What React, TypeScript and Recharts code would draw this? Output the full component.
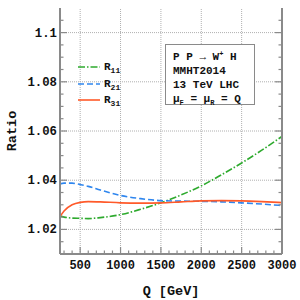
import { LineChart, Line, XAxis, YAxis, ReferenceLine, Legend, Label } from "recharts";

// Q in GeV and the three ratios
const qValues = [250, 300, 400, 500, 600, 750, 1000, 1250, 1500, 1750, 2000, 2250, 2500, 2750, 3000];
const r11 = [1.0254, 1.025, 1.0246, 1.0245, 1.0244, 1.0248, 1.026, 1.0282, 1.0308, 1.034, 1.0377, 1.0422, 1.047, 1.0522, 1.0578];
const r21 = [1.0385, 1.0388, 1.0388, 1.0382, 1.0375, 1.036, 1.0338, 1.0325, 1.0317, 1.0315, 1.0314, 1.0312, 1.0308, 1.0303, 1.0297];
const r31 = [1.0252, 1.0275, 1.03, 1.031, 1.0313, 1.0312, 1.0308, 1.0307, 1.0308, 1.0312, 1.0316, 1.0317, 1.0316, 1.0313, 1.0309];

const xMajorTicks = [500, 1000, 1500, 2000, 2500, 3000];
const xAllTicks = [
  300, 400, 500, 600, 700, 800, 900, 1000, 1100, 1200, 1300, 1400, 1500, 1600, 1700, 1800, 1900, 2000,
  2100, 2200, 2300, 2400, 2500, 2600, 2700, 2800, 2900, 3000,
];
const yMajorTicks = [1.02, 1.04, 1.06, 1.08, 1.1];
const yAllTicks = [
  1.015, 1.02, 1.025, 1.03, 1.035, 1.04, 1.045, 1.05, 1.055, 1.06, 1.065, 1.07, 1.075, 1.08, 1.085,
  1.09, 1.095, 1.1, 1.105,
];

const series = [
  { key: "r11", label: "11", color: "#2eaa2e", dash: "7 2 1.5 2" },
  { key: "r21", label: "21", color: "#2f86ee", dash: "6 3" },
  { key: "r31", label: "31", color: "#ff5a2a", dash: undefined },
];

const data = qValues.map((q, i) => ({ q, r11: r11[i], r21: r21[i], r31: r31[i] }));

const FONT = "'Liberation Mono', 'DejaVu Sans Mono', monospace";
const FRAME = "#8a8a8a";

const isMajor = (list: number[], v: number) => list.some((m) => Math.abs(m - v) < 1e-9);

function XTick(props: any) {
  const { x, y, payload } = props;
  const major = isMajor(xMajorTicks, payload.value);
  return (
    <g>
      <line x1={x} y1={y} x2={x} y2={y - (major ? 7 : 3.5)} stroke={FRAME} strokeWidth={1.2} />
      {major && (
        <text x={x} y={y + 14.5} textAnchor="middle" fontFamily={FONT} fontWeight="bold" fontSize={12} fill="#111">
          {payload.value}
        </text>
      )}
    </g>
  );
}

function YTickLeft(props: any) {
  const { x, y, payload } = props;
  const major = isMajor(yMajorTicks, payload.value);
  return (
    <g>
      <line x1={x} y1={y} x2={x + (major ? 7 : 3.5)} y2={y} stroke={FRAME} strokeWidth={1.2} />
      {major && (
        <text x={x - 3} y={y + 4} textAnchor="end" fontFamily={FONT} fontWeight="bold" fontSize={12.3} fill="#111">
          {String(payload.value)}
        </text>
      )}
    </g>
  );
}

function YTickRight(props: any) {
  const { x, y, payload } = props;
  const major = isMajor(yMajorTicks, payload.value);
  return <line x1={x} y1={y} x2={x - (major ? 7 : 3.5)} y2={y} stroke={FRAME} strokeWidth={1.2} />;
}

function SeriesLegend(props: any) {
  const { payload } = props;
  return (
    <div style={{ fontFamily: FONT, fontWeight: "bold", fontSize: 11, color: "#111", width: 60 }}>
      {(payload || []).map((entry: any) => {
        const s = series.find((it) => it.key === entry.dataKey);
        if (!s) return null;
        return (
          <div key={s.key} style={{ display: "flex", alignItems: "center", height: 16.5 }}>
            <svg width={24} height={6} style={{ marginRight: 3, flexShrink: 0 }}>
              <line x1={1} y1={3} x2={23} y2={3} stroke={s.color} strokeWidth={1.6} strokeDasharray={s.dash} />
            </svg>
            <span>
              R<span style={{ fontSize: 8, position: "relative", top: 3 }}>{s.label}</span>
            </span>
          </div>
        );
      })}
    </div>
  );
}

export default function App() {
  return (
    <div style={{ position: "absolute", left: 0, top: 0, width: 300, height: 300, background: "#fff" }}>
      <LineChart width={300} height={300} data={data} margin={{ top: 8, right: 0, bottom: 0, left: 0 }}>
        {xMajorTicks.slice(0, -1).map((v) => (
          <ReferenceLine key={`gx${v}`} x={v} stroke="#b0b0b0" strokeDasharray="1 1" />
        ))}
        {yMajorTicks.map((v) => (
          <ReferenceLine key={`gy${v}`} y={v} stroke="#b0b0b0" strokeDasharray="1 1" />
        ))}
        <XAxis
          dataKey="q"
          type="number"
          domain={[250, 3000]}
          allowDataOverflow
          ticks={xAllTicks}
          interval={0}
          height={46}
          tickLine={false}
          tickSize={0}
          tickMargin={0}
          tick={XTick}
          axisLine={{ stroke: FRAME, strokeWidth: 2 }}
        >
          <Label
            value="Q [GeV]"
            position="insideBottom"
            offset={5}
            style={{ fontFamily: FONT, fontWeight: "bold", fontSize: 13.5, fill: "#111" }}
          />
        </XAxis>
        <XAxis
          xAxisId="top"
          orientation="top"
          dataKey="q"
          type="number"
          domain={[250, 3000]}
          height={0}
          tick={false}
          tickLine={false}
          axisLine={{ stroke: FRAME, strokeWidth: 1.5 }}
        />
        <YAxis
          type="number"
          domain={[1.01, 1.11]}
          allowDataOverflow
          ticks={yAllTicks}
          interval={0}
          width={60}
          tickLine={false}
          tickSize={0}
          tickMargin={0}
          tick={YTickLeft}
          axisLine={{ stroke: FRAME, strokeWidth: 2 }}
        >
          <Label
            value="Ratio"
            angle={-90}
            position="insideLeft"
            offset={11}
            style={{ fontFamily: FONT, fontWeight: "bold", fontSize: 13.5, fill: "#111", textAnchor: "middle" }}
          />
        </YAxis>
        <YAxis
          yAxisId="right"
          orientation="right"
          type="number"
          domain={[1.01, 1.11]}
          allowDataOverflow
          ticks={yAllTicks}
          interval={0}
          width={18}
          tickLine={false}
          tickSize={0}
          tickMargin={0}
          tick={YTickRight}
          axisLine={{ stroke: FRAME, strokeWidth: 2 }}
        />
        {series.map((s) => (
          <Line
            key={s.key}
            dataKey={s.key}
            type="monotone"
            stroke={s.color}
            strokeWidth={1.6}
            strokeDasharray={s.dash}
            dot={false}
            isAnimationActive={false}
          />
        ))}
        <Legend
          layout="vertical"
          verticalAlign="middle"
          align="center"
          content={SeriesLegend}
          wrapperStyle={{ position: "absolute", left: 77, top: 59, width: 60, height: 50 }}
        />
      </LineChart>
      <div
        style={{
          position: "absolute",
          left: 165,
          top: 44,
          width: 90,
          height: 61,
          boxSizing: "border-box",
          border: `1.5px solid ${FRAME}`,
          background: "#fff",
          fontFamily: FONT,
          fontWeight: "bold",
          fontSize: 11,
          lineHeight: "14px",
          color: "#111",
          padding: "2px 0 0 7px",
          whiteSpace: "nowrap",
        }}
      >
        <div>
          P P → W<sup style={{ fontSize: 7, verticalAlign: 4 }}>+</sup> H
        </div>
        <div>MMHT2014</div>
        <div>13 TeV LHC</div>
        <div>
          μ<sub style={{ fontSize: 7, verticalAlign: -3 }}>F</sub> = μ<sub style={{ fontSize: 7, verticalAlign: -3 }}>R</sub> = Q
        </div>
      </div>
    </div>
  );
}
